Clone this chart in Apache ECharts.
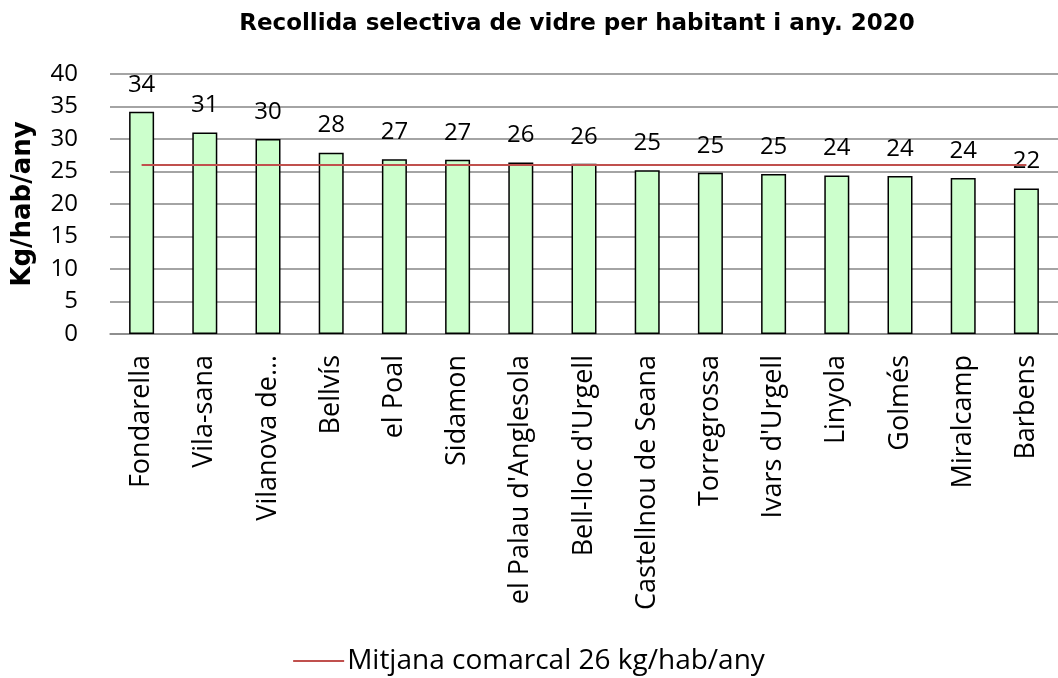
<!DOCTYPE html>
<html>
<head>
<meta charset="utf-8">
<script src="https://cdn.jsdelivr.net/npm/echarts@6/dist/echarts.min.js"></script>
<style>
html,body{margin:0;padding:0;background:#fff;}
#chart{width:1058px;height:678px;}
</style>
</head>
<body>
<div id="chart"></div>
<script>
const titleText = "Recollida selectiva de vidre per habitant i any. 2020";
const categories = ["Fondarella","Vila-sana","Vilanova de…","Bellvís","el Poal","Sidamon","el Palau d'Anglesola","Bell-lloc d'Urgell","Castellnou de Seana","Torregrossa","Ivars d'Urgell","Linyola","Golmés","Miralcamp","Barbens"];
const values = [34.2,31.0,30.0,27.9,26.9,26.8,26.4,26.2,25.2,24.8,24.6,24.4,24.3,24.0,22.4];
const meanName = "Mitjana comarcal 26 kg/hab/any";
const meanValues = [26,26,26,26,26,26,26,26,26,26,26,26,26,26,26];
const yTicks = [0,5,10,15,20,25,30,35,40];

const FONT = "'Open Sans', 'Noto Sans', sans-serif";
const chart = echarts.init(document.getElementById('chart'), null, {renderer:'canvas'});
chart.setOption({
  animation:false,
  backgroundColor:'#fff',
  textStyle:{fontFamily:FONT},
  title:{
    text:titleText, left:572, top:8, textAlign:'center',
    textStyle:{fontFamily:"'DejaVu Sans', sans-serif", fontSize:23, fontWeight:'bold', color:'#000'}
  },
  legend:{
    data:[{name:meanName, icon:'path://M0,0 L51,0 L51,2 L0,2 Z'}],
    bottom:-2, left:'center',
    itemWidth:51, itemHeight:3, itemGap:4,
    textStyle:{fontFamily:FONT, fontSize:28, color:'#000', padding:[0,0,0,-2]}
  },
  grid:{left:110, top:74, width:952, height:260, containLabel:false},
  xAxis:{
    type:'category', data:categories,
    axisLine:{show:true, lineStyle:{color:'#868686', width:1.5}},
    axisTick:{show:false},
    axisLabel:{rotate:90, interval:0, fontFamily:FONT, fontSize:27, color:'#000', margin:21}
  },
  yAxis:{
    type:'value', min:yTicks[0], max:yTicks[yTicks.length-1], interval:5,
    name:'Kg/hab/any', nameLocation:'middle', nameGap:74,
    nameTextStyle:{fontFamily:"'DejaVu Sans', sans-serif", fontSize:26, fontWeight:'bold', color:'#000'},
    axisLine:{show:false}, axisTick:{show:false},
    axisLabel:{fontFamily:FONT, fontSize:24, color:'#000', margin:32},
    splitLine:{show:true, lineStyle:{color:'#868686', width:1.5}}
  },
  series:[
    {
      type:'bar', name:'Kg/hab/any', data:values, barWidth:25,
      itemStyle:{color:'#ccffcc', borderColor:'#000', borderWidth:1.5},
      label:{show:true, position:'top', distance:15, fontFamily:FONT, fontSize:24, color:'#000',
        formatter:p=>Math.round(p.value)},
      z:2
    },
    {
      type:'line', name:meanName, data:meanValues, showSymbol:false, symbol:'none',
      lineStyle:{color:'#c0504d', width:2}, itemStyle:{color:'#c0504d'}, z:3
    }
  ]
});
</script>
</body>
</html>
